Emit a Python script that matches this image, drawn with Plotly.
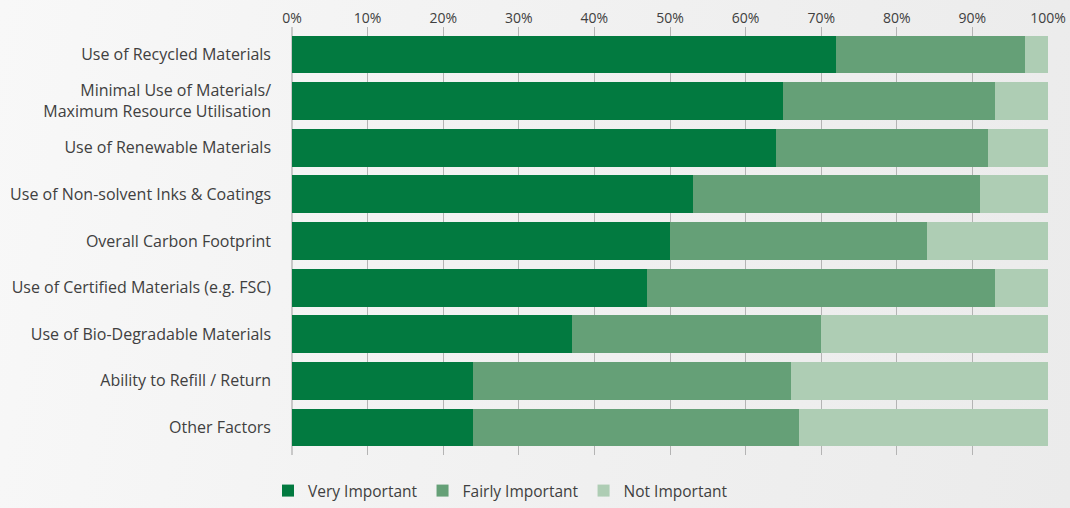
import plotly.graph_objects as go

categories = [
    "Use of Recycled Materials",
    "Minimal Use of Materials/<br>Maximum Resource Utilisation",
    "Use of Renewable Materials",
    "Use of Non-solvent Inks & Coatings",
    "Overall Carbon Footprint",
    "Use of Certified Materials (e.g. FSC)",
    "Use of Bio-Degradable Materials",
    "Ability to Refill / Return",
    "Other Factors",
]
very_important = [72, 65, 64, 53, 50, 47, 37, 24, 24]
fairly_important = [25, 28, 28, 38, 34, 46, 33, 42, 43]
not_important = [3, 7, 8, 9, 16, 7, 30, 34, 33]
series_names = ["Very Important", "Fairly Important", "Not Important"]
colors = ["#027a40", "#65a077", "#aecdb4"]

fig = go.Figure()
for name, vals, col in zip(series_names, [very_important, fairly_important, not_important], colors):
    fig.add_trace(go.Bar(
        y=categories, x=vals, name=name, orientation="h",
        marker=dict(color=col, line=dict(width=0)),
        hoverinfo="x+y",
    ))

W, H = 1070, 508
L, R, T, B = 292, 22, 27, 53

fig.update_layout(
    width=W, height=H,
    barmode="stack", bargap=0.19,
    margin=dict(l=L, r=R, t=T, b=B, pad=0, autoexpand=False),
    paper_bgcolor="rgba(0,0,0,0)", plot_bgcolor="rgba(0,0,0,0)",
    font=dict(family="Open Sans, Noto Sans, sans-serif", color="#404040", size=15),
    xaxis=dict(side="top", range=[0, 100], dtick=10, ticksuffix="%",
               showgrid=True, gridcolor="#b4b4b4", gridwidth=1,
               zeroline=True, zerolinecolor="#c8c8c8", zerolinewidth=2,
               showline=False, ticks="", tickfont=dict(size=14, color="#404040"),
               fixedrange=True),
    yaxis=dict(range=[8.59, -0.59], showgrid=False, zeroline=False, ticks="",
               ticklabelstandoff=20, tickfont=dict(size=16, color="#404040")),
    legend=dict(orientation="h", xref="container", yref="container",
                x=268 / W, xanchor="left", y=(H - 491) / H, yanchor="middle",
                font=dict(size=15.5, color="#404040"), bgcolor="rgba(0,0,0,0)",
                traceorder="normal", itemwidth=30),
    showlegend=True,
)

post = """
document.documentElement.style.margin='0';
document.body.style.margin='0';
document.body.style.background='linear-gradient(100deg, #f8f8f8 0%, #f1f1f1 50%, #ebebeb 100%)';
document.body.style.minHeight='508px';
"""

fig.write_html("out.html", post_script=post, config={"displayModeBar": False})
